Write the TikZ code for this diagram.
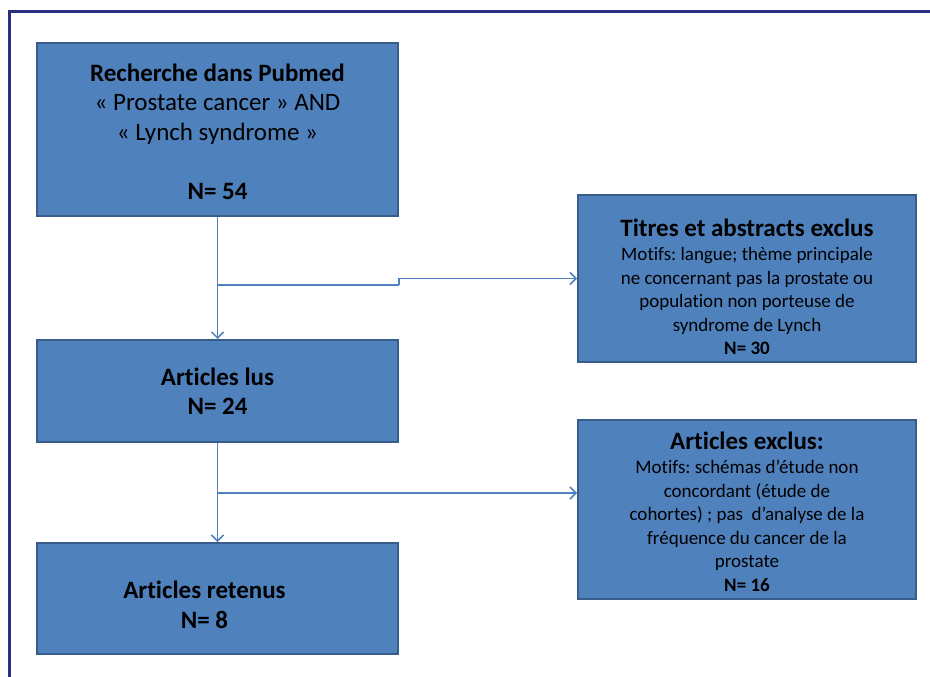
\documentclass[tikz,border=0pt]{standalone}
\usepackage{fontspec}
\setmainfont{Carlito}[Ligatures=CommonOff]
\usetikzlibrary{arrows.meta,positioning}

\definecolor{boxfill}{RGB}{79,129,189}
\definecolor{boxline}{RGB}{56,93,138}
\definecolor{framenavy}{RGB}{42,46,128}
\newcommand{\bigfont}{\fontsize{25}{29.5}\selectfont}
\newcommand{\midfont}{\fontsize{25}{26}\selectfont}
\newcommand{\smallfont}{\fontsize{19}{23.5}\selectfont}
\frenchspacing

\begin{document}
\begin{tikzpicture}[x=1pt,y=-1pt,
  boxnode/.style={draw=boxline, fill=boxfill, line width=2pt, align=center, inner sep=0pt},
  link/.style={draw=boxfill, line width=1.5pt, -{Straight Barb[length=6pt,width=12pt]}}]
  \useasboundingbox (0,0) rectangle (930,677);
  \draw[framenavy, line width=3pt] (9,677) -- (9,12) -- (930,12);

  % left column
  \node[boxnode, minimum width=361pt, minimum height=173pt, font=\bigfont] (search) at (217.5,129.5)
    {\bfseries\rule{0pt}{22pt}Recherche dans Pubmed\\ « Prostate cancer » AND\\ « Lynch syndrome »\\[29.5pt] \bfseries N= 54};
  \node[boxnode, minimum width=361pt, minimum height=102pt, font=\bigfont\bfseries] (read) at (217.5,391)
    {Articles lus\\ N= 24};
  \node[boxnode, minimum width=361pt, minimum height=111pt, font=\bigfont\bfseries] (kept) at (217.5,598.5)
    {\rule{0pt}{30pt}Articles retenus\hspace*{26pt}\\ N= 8\hspace*{26pt}};

  % right column
  \node[boxnode, minimum width=338pt, minimum height=167pt, font=\smallfont] (titles) at (747,278.5)
    {{\midfont\bfseries\rule{0pt}{34pt}Titres et abstracts exclus}\\[1pt] Motifs: langue; thème principale\\ ne concernant pas la prostate ou\\ population non porteuse de\\ syndrome de Lynch\\ \bfseries N= 30};
  \node[boxnode, minimum width=338pt, minimum height=179pt, font=\smallfont] (dropped) at (747,509.5)
    {{\midfont\bfseries\rule{0pt}{22pt}Articles exclus:}\\[1pt] Motifs: schémas d’étude non\\ concordant (étude de\\ cohortes) ; pas\ \ d’analyse de la\\ fréquence du cancer de la\\ prostate\\ \bfseries N= 16};

  \coordinate (split1) at (217.5,285);
  \coordinate (split2) at (217.5,493);

  \draw[link] (search) -- (read);
  \draw[link] (read) -- (kept);
  \draw[link, -] (split1) -- (split1 -| search.east);
  \draw[link] (split1 -| search.east) |- (titles.west);
  \draw[link] (split2) -- (split2 -| dropped.west);
\end{tikzpicture}
\end{document}
